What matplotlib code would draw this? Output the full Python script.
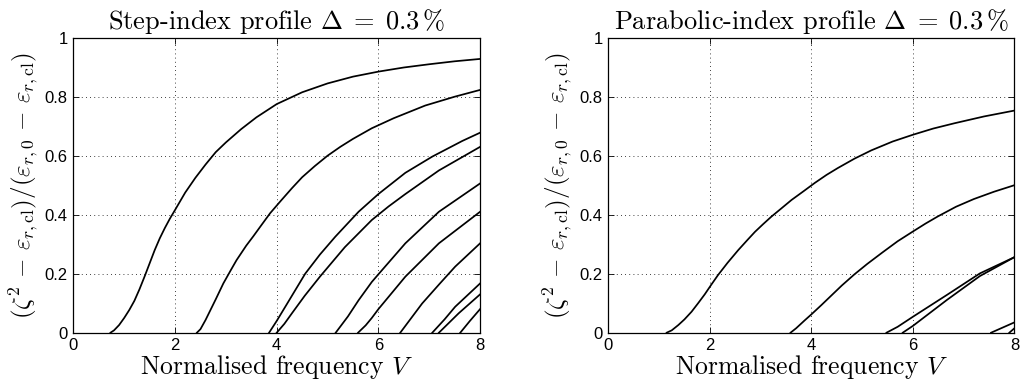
import matplotlib
matplotlib.use("Agg")
import matplotlib.pyplot as plt

# step-index profile, one list pair per mode (V, normalised propagation constant)
step_lp01_v = [0.73, 0.8, 0.9, 1.0, 1.1, 1.2, 1.3, 1.4, 1.5, 1.6, 1.7, 1.8, 1.9, 2.0, 2.2, 2.4, 2.6, 2.8, 3.0, 3.3, 3.6, 4.0, 4.5, 5.0, 5.5, 6.0, 6.5, 7.0, 7.5, 8.0]
step_lp01_b = [0.0, 0.008, 0.026, 0.05, 0.077, 0.108, 0.147, 0.19, 0.235, 0.28, 0.32, 0.355, 0.387, 0.416, 0.475, 0.525, 0.57, 0.612, 0.645, 0.69, 0.73, 0.775, 0.815, 0.845, 0.868, 0.885, 0.899, 0.91, 0.92, 0.928]
step_lp11_v = [2.43, 2.5, 2.6, 2.7, 2.8, 2.95, 3.1, 3.21, 3.4, 3.54, 3.7, 3.87, 4.07, 4.3, 4.5, 4.75, 5.0, 5.25, 5.5, 5.87, 6.3, 6.92, 7.5, 8.0]
step_lp11_b = [0.0, 0.012, 0.043, 0.078, 0.113, 0.167, 0.213, 0.246, 0.295, 0.327, 0.365, 0.405, 0.445, 0.49, 0.527, 0.565, 0.6, 0.63, 0.657, 0.693, 0.727, 0.77, 0.8, 0.823]
step_lp21_v = [3.85, 4.0, 4.2, 4.56, 4.85, 5.15, 5.61, 6.0, 6.53, 7.06, 7.65, 8.0]
step_lp21_b = [0.0, 0.04, 0.097, 0.2, 0.265, 0.325, 0.41, 0.47, 0.542, 0.597, 0.65, 0.678]
step_lp02_v = [4.0, 4.15, 4.3, 4.55, 4.85, 5.34, 5.87, 6.2, 6.53, 7.19, 8.0]
step_lp02_b = [0.0, 0.03, 0.066, 0.125, 0.19, 0.29, 0.382, 0.428, 0.47, 0.55, 0.63]
step_lp31_v = [5.16, 5.4, 5.61, 5.87, 6.0, 6.53, 7.19, 8.0]
step_lp31_b = [0.0, 0.055, 0.11, 0.172, 0.198, 0.303, 0.41, 0.506]
step_lp12_v = [5.6, 5.75, 5.87, 6.0, 6.53, 7.19, 8.0]
step_lp12_b = [0.0, 0.025, 0.05, 0.08, 0.19, 0.303, 0.41]
step_lp41_v = [6.43, 6.86, 7.2, 7.51, 8.0]
step_lp41_b = [0.0, 0.099, 0.165, 0.224, 0.303]
step_lp22_v = [7.06, 7.3, 7.51, 8.0]
step_lp22_b = [0.0, 0.045, 0.088, 0.167]
step_lp03_v = [7.19, 7.58, 8.0]
step_lp03_b = [0.0, 0.066, 0.13]
step_lp51_v = [7.61, 7.8, 8.0]
step_lp51_b = [0.0, 0.04, 0.08]

# parabolic-index profile
para_m1_v = [1.15, 1.25, 1.38, 1.5, 1.64, 1.77, 1.9, 2.03, 2.16, 2.35, 2.56, 2.75, 2.89, 3.05, 3.21, 3.4, 3.61, 3.85, 4.07, 4.3, 4.52, 4.85, 5.18, 5.6, 6.0, 6.4, 6.82, 7.4, 8.0]
para_m1_b = [0.0, 0.008, 0.026, 0.045, 0.071, 0.1, 0.13, 0.163, 0.195, 0.237, 0.28, 0.316, 0.342, 0.368, 0.393, 0.42, 0.45, 0.48, 0.508, 0.535, 0.558, 0.59, 0.618, 0.648, 0.671, 0.692, 0.71, 0.733, 0.753]
para_m2_v = [3.59, 3.7, 3.87, 4.0, 4.2, 4.4, 4.6, 4.85, 5.1, 5.4, 5.7, 6.0, 6.25, 6.49, 6.85, 7.2, 7.6, 8.0]
para_m2_b = [0.0, 0.015, 0.042, 0.062, 0.094, 0.127, 0.16, 0.198, 0.233, 0.272, 0.31, 0.343, 0.37, 0.394, 0.427, 0.453, 0.478, 0.5]
para_m3_v = [5.48, 5.7, 6.0, 6.67, 7.32, 8.0]
para_m3_b = [0.0, 0.02, 0.054, 0.128, 0.201, 0.256]
para_m4_v = [5.8, 6.0, 6.67, 7.32, 8.0]
para_m4_b = [0.0, 0.023, 0.111, 0.192, 0.256]
para_m5_v = [7.54, 8.0]
para_m5_b = [0.0, 0.035]
para_m6_v = [7.9, 8.0]
para_m6_b = [0.0, 0.015]

step_curves = [(step_lp01_v, step_lp01_b), (step_lp11_v, step_lp11_b),
               (step_lp21_v, step_lp21_b), (step_lp02_v, step_lp02_b),
               (step_lp31_v, step_lp31_b), (step_lp12_v, step_lp12_b),
               (step_lp41_v, step_lp41_b), (step_lp22_v, step_lp22_b),
               (step_lp03_v, step_lp03_b), (step_lp51_v, step_lp51_b)]
para_curves = [(para_m1_v, para_m1_b), (para_m2_v, para_m2_b),
               (para_m3_v, para_m3_b), (para_m4_v, para_m4_b),
               (para_m5_v, para_m5_b), (para_m6_v, para_m6_b)]

titles = [r'Step-index profile $\Delta\;=\;0.3\,\%$',
          r'Parabolic-index profile $\Delta\;=\;0.3\,\%$']
ylab = r'$(\zeta^2\,-\,\varepsilon_{r,\mathrm{cl}})/(\varepsilon_{r,0}\,-\,\varepsilon_{r,\mathrm{cl}})$'
xlab = r'Normalised frequency $V$'
xticks = [0, 2, 4, 6, 8]
yticks = [0, 0.2, 0.4, 0.6, 0.8, 1]
yticklabels = ['0', '0.2', '0.4', '0.6', '0.8', '1']

plt.rcParams['mathtext.fontset'] = 'cm'
plt.rcParams['axes.formatter.use_mathtext'] = True

fig = plt.figure(figsize=(10.23, 3.87), dpi=100)
positions = [[0.0717, 0.1403, 0.3976, 0.7623], [0.5946, 0.1403, 0.3970, 0.7623]]

for pos, curves, title in zip(positions, [step_curves, para_curves], titles):
    ax = fig.add_axes(pos)
    for v, b in curves:
        ax.plot(v, b, color='black', lw=1.25)
    ax.set_xlim(0, 8)
    ax.set_ylim(0, 1)
    ax.set_xticks(xticks)
    ax.set_xticklabels([str(t) for t in xticks], family='Liberation Sans', fontsize=12)
    ax.set_yticks(yticks)
    ax.set_yticklabels(yticklabels, family='Liberation Sans', fontsize=12)
    ax.tick_params(direction='in', top=True, right=True, length=4, width=0.6, pad=4)
    ax.grid(True, linestyle=(0, (1, 4)), color='black', lw=0.6)
    for s in ax.spines.values():
        s.set_linewidth(0.9)
    ax.set_title(title, family='cmr10', fontsize=19, pad=6)
    ax.set_xlabel(xlab, family='cmr10', fontsize=18.5, labelpad=0)
    ax.set_ylabel(ylab, fontsize=18, labelpad=3)

fig.savefig('out.png', dpi=100)
